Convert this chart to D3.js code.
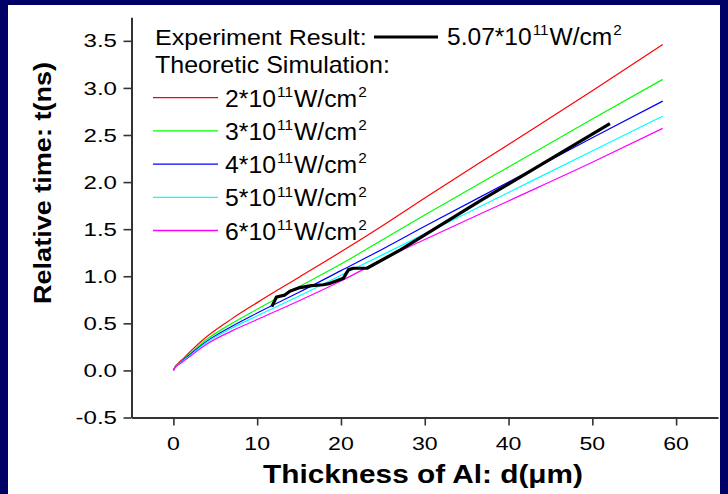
<!DOCTYPE html>
<html>
<head>
<meta charset="utf-8">
<script src="https://cdn.jsdelivr.net/npm/d3@7/dist/d3.min.js"></script>
<style>
body { margin: 0; background: #fff; }
svg { display: block; font-family: "Liberation Sans", Arial, sans-serif; }
</style>
</head>
<body>
<svg id="chart" width="728" height="494"></svg>
<script>
// thickness (um) at which the simulated curves were read
var thickness = [0, 0.2, 0.5, 1, 2, 4, 7, 10, 15, 20, 25, 30, 40, 50, 58.4];
var sim2 = [0, 0.04, 0.07, 0.11, 0.20, 0.36, 0.55, 0.72, 0.99, 1.26, 1.54, 1.83, 2.40, 2.97, 3.46];
var sim3 = [0, 0.035, 0.065, 0.10, 0.18, 0.33, 0.50, 0.65, 0.89, 1.13, 1.39, 1.65, 2.16, 2.67, 3.09];
var sim4 = [0, 0.033, 0.06, 0.095, 0.17, 0.31, 0.47, 0.61, 0.83, 1.06, 1.29, 1.53, 2.00, 2.47, 2.86];
var sim5 = [0, 0.032, 0.058, 0.09, 0.16, 0.30, 0.45, 0.58, 0.79, 1.01, 1.23, 1.45, 1.89, 2.33, 2.70];
var sim6 = [0, 0.03, 0.055, 0.085, 0.15, 0.28, 0.42, 0.54, 0.74, 0.95, 1.18, 1.39, 1.80, 2.21, 2.57];

// experiment (5.07e11 W/cm2)
var expThickness = [11.75, 12.3, 13.3, 13.9, 15.1, 16.5, 17.9, 18.7, 20.3, 20.9, 21.5, 23.1, 27.1, 36.8, 52.1];
var expTime = [0.677, 0.78, 0.80, 0.84, 0.88, 0.90, 0.91, 0.925, 0.98, 1.07, 1.085, 1.085, 1.28, 1.81, 2.62];

var intensities = ["2", "3", "4", "5", "6"];
var simColors = ["#ff0000", "#00ff00", "#0000ff", "#00ffff", "#ff00ff"];
var xTicks = [0, 10, 20, 30, 40, 50, 60];
var xMinor = [-5, 5, 15, 25, 35, 45, 55, 65];
var yTicks = [-0.5, 0, 0.5, 1, 1.5, 2, 2.5, 3, 3.5];
var yMinor = [-0.25, 0.25, 0.75, 1.25, 1.75, 2.25, 2.75, 3.25, 3.75];

var svg = d3.select("#chart");
var axisColor = "#333";

// navy frame
svg.append("rect").attr("x", 0).attr("y", 0).attr("width", 728).attr("height", 5).attr("fill", "#000066");
svg.append("rect").attr("x", 0).attr("y", 0).attr("width", 8).attr("height", 494).attr("fill", "#000066");
svg.append("rect").attr("x", 720).attr("y", 0).attr("width", 8).attr("height", 494).attr("fill", "#000066");

var x = d3.scaleLinear().domain([-5, 65]).range([131.5, 718]);
var y = d3.scaleLinear().domain([-0.5, 3.75]).range([417.5, 17.3]);

// text drawn at 0,0 inside a translated group; optionally stretched to a width
function addLabel(parent, px, py, size, parts, width, anchor) {
	var g = parent.append("g").attr("transform", "translate(" + px + "," + py + ")");
	var t = g.append("text")
		.attr("font-size", size)
		.attr("text-anchor", anchor || "start")
		.attr("fill", "#000");
	var shift = size * 0.42;
	var raised = false;
	parts.forEach(function (p) {
		if (typeof p === "object") {
			t.append("tspan").attr("font-size", size * 0.62).attr("dx", 1).attr("dy", -shift).text(p.up);
			raised = true;
		} else {
			var s = t.append("tspan").text(p);
			if (raised) { s.attr("dy", shift).attr("dx", 1); raised = false; }
		}
	});
	if (width) {
		var w = t.node().getBBox().width;
		t.attr("transform", "scale(" + (width / w) + ",1)");
	}
	return t;
}

// axes
var gx = svg.append("g").attr("transform", "translate(0," + y(-0.5) + ")");
gx.call(d3.axisBottom(x).tickValues(xMinor).tickSize(5).tickSizeOuter(0).tickFormat(""));
gx.call(d3.axisBottom(x).tickValues(xTicks).tickSize(8).tickSizeOuter(0).tickFormat(""));
var gy = svg.append("g").attr("transform", "translate(" + x(-5) + ",0)");
gy.call(d3.axisLeft(y).tickValues(yMinor).tickSize(5).tickSizeOuter(0).tickFormat(""));
gy.call(d3.axisLeft(y).tickValues(yTicks).tickSize(8).tickSizeOuter(0).tickFormat(""));
svg.selectAll(".domain").attr("stroke", axisColor).attr("stroke-width", 2);
svg.selectAll(".tick line").attr("stroke", axisColor).attr("stroke-width", 1.6);

xTicks.forEach(function (v) {
	addLabel(svg, x(v), 450, 18.5, [String(v)], null, "middle").attr("transform", "scale(1.25,1)");
});
yTicks.forEach(function (v) {
	addLabel(svg, 117, y(v) + 6.6, 18.5, [d3.format(".1f")(v).replace("\u2212", "-")], null, "end").attr("transform", "scale(1.3,1)");
});

// axis titles
svg.append("text")
	.attr("x", 423).attr("y", 483)
	.attr("text-anchor", "middle")
	.attr("font-size", 25).attr("font-weight", "bold")
	.attr("textLength", 320).attr("lengthAdjust", "spacingAndGlyphs")
	.text("Thickness of Al: d(\u03bcm)");
svg.append("text")
	.attr("transform", "translate(51,183) rotate(-90)")
	.attr("text-anchor", "middle")
	.attr("font-size", 24).attr("font-weight", "bold")
	.attr("textLength", 242).attr("lengthAdjust", "spacingAndGlyphs")
	.text("Relative time: t(ns)");

// curves
var series = [sim2, sim3, sim4, sim5, sim6];
var line = d3.line()
	.x(function (d) { return x(d[0]); })
	.y(function (d) { return y(d[1]); })
	.curve(d3.curveMonotoneX);

series.forEach(function (s, i) {
	svg.append("path")
		.datum(thickness.map(function (d, j) { return [d, s[j]]; }))
		.attr("d", line)
		.attr("fill", "none")
		.attr("stroke", simColors[i])
		.attr("stroke-width", 1.2);
});

svg.append("path")
	.datum(expThickness.map(function (d, j) { return [d, expTime[j]]; }))
	.attr("d", d3.line().x(function (d) { return x(d[0]); }).y(function (d) { return y(d[1]); }))
	.attr("fill", "none")
	.attr("stroke", "#000")
	.attr("stroke-width", 3.2)
	.attr("stroke-linejoin", "round");

// legend
var legend = svg.append("g");
addLabel(legend, 155, 45, 23, ["Experiment Result:"], 212);
legend.append("line").attr("x1", 374).attr("x2", 438).attr("y1", 37).attr("y2", 37)
	.attr("stroke", "#000").attr("stroke-width", 3);
addLabel(legend, 447, 45, 23, ["5.07*10", {up: "11"}, "W/cm", {up: "2"}], 175);
addLabel(legend, 155, 73, 23, ["Theoretic Simulation:"], 235);

intensities.forEach(function (v, i) {
	var ly = 97.7 + i * 33.2;
	legend.append("line").attr("x1", 153).attr("x2", 218).attr("y1", ly).attr("y2", ly)
		.attr("stroke", simColors[i]).attr("stroke-width", 1.3);
	addLabel(legend, 225, ly + 9, 23, [v + "*10", {up: "11"}, "W/cm", {up: "2"}], 142);
});
</script>
</body>
</html>
